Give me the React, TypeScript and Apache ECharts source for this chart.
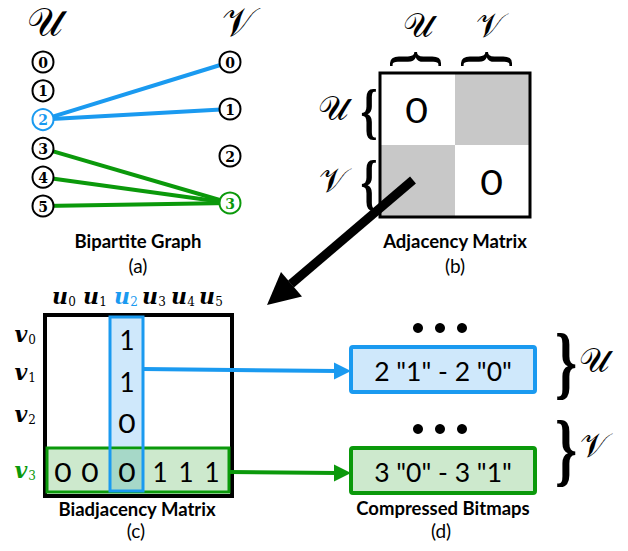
import React, { useEffect, useRef } from 'react';
import * as echarts from 'echarts';

// ---------- data ----------
const uNodes = ['0', '1', '2', '3', '4', '5'];
const vNodes = ['0', '1', '2', '3'];
const edges: [number, number][] = [[2, 0], [2, 1], [3, 3], [4, 3], [5, 3]];
const highlightU = 2;
const highlightV = 3;
const adjacencyCells = [['0', null], [null, '0']]; // null = shaded block
const biadjColumnValues = ['1', '1', '0']; // column u2, rows v0..v2
const biadjRowValues = ['0', '0', '0', '1', '1', '1']; // row v3, columns u0..u5
const colSubscripts = ['0', '1', '2', '3', '4', '5'];
const rowSubscripts = ['0', '1', '2', '3'];
const bitmapTexts = ['2 "1" - 2 "0"', '3 "0" - 3 "1"'];
const setLabels = ['𝒰', '𝒱'];
const panelTitles = ['Bipartite Graph', 'Adjacency Matrix', 'Biadjacency Matrix', 'Compressed Bitmaps'];
const panelTags = ['(a)', '(b)', '(c)', '(d)'];

// ---------- style ----------
const BLUE = '#1a9af0';
const LIGHT_BLUE = '#cfe8fb';
const GREEN = '#0b990b';
const LIGHT_GREEN = '#cde9cd';
const MIX = '#a6d8c8';
const GRAY = '#c8c8c8';
const SANS = 'Lato';
const SERIF = 'DejaVu Serif';
const BRACE = 'Liberation Serif';
const SCRIPT = 'DejaVu Serif';

export default function App() {
  const ref = useRef<HTMLDivElement>(null);
  useEffect(() => {
    document.body.style.margin = '0';
    const chart = echarts.init(ref.current!, null, { renderer: 'svg' });
    const els: any[] = [];
    const txt = (x: number, y: number, text: string, size: number, o: any = {}) => {
      els.push({
        type: 'text', x, y,
        rotation: o.rotation || 0, scaleX: o.sx || 1, scaleY: o.sy || 1,
        style: {
          text, fontSize: size, fontFamily: o.family || SANS,
          fontWeight: o.weight || 'normal', fontStyle: o.style || 'normal',
          fill: o.fill || '#000',
          align: o.align || 'center', verticalAlign: 'middle',
          textAlign: o.align || 'center', textVerticalAlign: 'middle',
        },
      });
    };
    const line = (x1: number, y1: number, x2: number, y2: number, stroke: string, w: number) =>
      els.push({ type: 'line', shape: { x1, y1, x2, y2 }, style: { stroke, lineWidth: w } });
    const rect = (x: number, y: number, w: number, h: number, style: any, r = 0) =>
      els.push({ type: 'rect', shape: { x, y, width: w, height: h, r }, style });
    const poly = (points: number[][], fill: string) =>
      els.push({ type: 'polygon', shape: { points }, style: { fill } });

    // ---------- (a) bipartite graph ----------
    const uX = 43, uTop = 62, uStep = 28.8;
    const vX = 230, vTop = 62, vStep = 47;
    const uY = (i: number) => uTop + i * uStep;
    const vY = (j: number) => vTop + j * vStep;
    txt(45, 22, setLabels[0], 40, { family: SCRIPT });
    txt(238, 22, setLabels[1], 40, { family: SCRIPT });
    edges.forEach(([u, v]) => {
      const c = u === highlightU ? BLUE : GREEN;
      line(uX, uY(u), vX, vY(v), c, 4);
    });
    uNodes.forEach((n, i) => {
      const c = i === highlightU ? BLUE : '#000';
      els.push({ type: 'circle', shape: { cx: uX, cy: uY(i), r: 10.5 }, style: { fill: '#fff', stroke: c, lineWidth: 2 } });
      txt(uX, uY(i) + 0.5, n, 14, { family: SERIF, weight: 'bold', fill: c });
    });
    vNodes.forEach((n, j) => {
      const c = j === highlightV ? GREEN : '#000';
      els.push({ type: 'circle', shape: { cx: vX, cy: vY(j), r: 10.5 }, style: { fill: '#fff', stroke: c, lineWidth: 2 } });
      txt(vX, vY(j) + 0.5, n, 14, { family: SERIF, weight: 'bold', fill: c });
    });
    txt(138, 241, panelTitles[0], 18.5, { weight: 'bold' });
    txt(138, 265, panelTags[0], 19);

    // ---------- (b) adjacency matrix ----------
    const ax = 380, ay = 73, aw = 150, ah = 144;
    rect(ax, ay, aw, ah, { fill: '#fff' });
    adjacencyCells.forEach((row, r) => row.forEach((cell, c) => {
      const cx = ax + c * aw / 2, cy = ay + r * ah / 2;
      if (cell === null) rect(cx, cy, aw / 2, ah / 2, { fill: GRAY });
      else txt(cx + aw / 4 - 1, cy + ah / 4 + 1, cell, 34, { sx: 1.15 });
    }));
    rect(ax, ay, aw, ah, { fill: 'none', stroke: '#000', lineWidth: 3 });
    // top braces
    txt(418, 25, setLabels[0], 34, { family: SCRIPT });
    txt(490, 25, setLabels[1], 34, { family: SCRIPT });
    txt(419, 59, '{', 62, { family: BRACE, weight: 'bold', rotation: -Math.PI / 2, sx: 0.7 });
    txt(490, 59, '{', 62, { family: BRACE, weight: 'bold', rotation: -Math.PI / 2, sx: 0.7 });
    // left braces
    txt(333, 108, setLabels[0], 34, { family: SCRIPT });
    txt(333, 180, setLabels[1], 34, { family: SCRIPT });
    txt(369, 111, '{', 62, { family: BRACE, weight: 'bold', sx: 0.7 });
    txt(369, 182, '{', 62, { family: BRACE, weight: 'bold', sx: 0.7 });
    txt(455, 241, panelTitles[1], 18.5, { weight: 'bold' });
    txt(455, 265, panelTags[1], 19);

    // big arrow (b) -> (c)
    line(413, 180, 291, 284, '#000', 9);
    poly([[267, 305], [302, 296.5], [281, 272]], '#000');

    // ---------- (c) biadjacency matrix ----------
    const bx = 45, by = 315, bw = 187, bh = 181;
    const cellX = [63, 90, 127, 160, 186, 212];
    const rowY = [340, 382, 423, 472];
    const colLabelX = [63, 94, 125, 153, 182, 210];
    const rowLabelY = [337, 375, 417, 473];
    const colRect = { x: 110, y: 317, w: 33, h: 174 };
    const rowRect = { x: 47, y: 448, w: 182, h: 44 };
    rect(bx, by, bw, bh, { fill: '#fff', stroke: '#000', lineWidth: 4 });
    rect(colRect.x, colRect.y, colRect.w, colRect.h, { fill: LIGHT_BLUE });
    rect(rowRect.x, rowRect.y, rowRect.w, rowRect.h, { fill: LIGHT_GREEN, stroke: GREEN, lineWidth: 3 });
    rect(colRect.x, rowRect.y + 1.5, colRect.w, rowRect.h - 3, { fill: MIX });
    rect(colRect.x, colRect.y, colRect.w, colRect.h, { fill: 'none', stroke: BLUE, lineWidth: 3 });
    biadjColumnValues.forEach((v, r) => txt(cellX[highlightU], rowY[r], v, 26, { sx: v === '0' ? 1.15 : 1 }));
    biadjRowValues.forEach((v, c) => txt(cellX[c], rowY[highlightV], v, 26, { sx: v === '0' ? 1.15 : 1 }));
    colSubscripts.forEach((s, i) => {
      const c = i === highlightU ? BLUE : '#000';
      txt(colLabelX[i] - 3, 296, 'u', 22, { family: SERIF, weight: 'bold', style: 'italic', fill: c });
      txt(colLabelX[i] + 9, 302, s, 12, { family: SERIF, fill: c });
    });
    rowSubscripts.forEach((s, i) => {
      const c = i === highlightV ? GREEN : '#000';
      txt(21, rowLabelY[i] - 3, 'v', 22, { family: SERIF, weight: 'bold', style: 'italic', fill: c });
      txt(32, rowLabelY[i] + 3, s, 12, { family: SERIF, fill: c });
    });
    txt(137, 509, panelTitles[2], 18.5, { weight: 'bold' });
    txt(136, 530, panelTags[2], 19);

    // connectors
    line(143, 369, 337, 371, BLUE, 4);
    poly([[351, 371], [334, 362.5], [334, 379.5]], BLUE);
    line(229, 472, 337, 473, GREEN, 4);
    poly([[351, 473], [334, 464.5], [334, 481.5]], GREEN);

    // ---------- (d) compressed bitmaps ----------
    const boxX = 351, boxW = 184, boxH = 45;
    const boxY = [347, 448];
    const boxStyles = [[LIGHT_BLUE, BLUE], [LIGHT_GREEN, GREEN]];
    bitmapTexts.forEach((t, k) => {
      const [f, s] = boxStyles[k];
      rect(boxX, boxY[k], boxW, boxH, { fill: f, stroke: s, lineWidth: 4 }, 2);
      txt(boxX + boxW / 2, boxY[k] + boxH / 2 + 1, t, 26.5);
      [418, 440, 462].forEach((dx) =>
        els.push({ type: 'circle', shape: { cx: dx, cy: boxY[k] - 19, r: 5 }, style: { fill: '#000' } }));
    });
    txt(566, 362, '}', 80, { family: BRACE, weight: 'bold', sx: 0.7 });
    txt(566, 449, '}', 80, { family: BRACE, weight: 'bold', sx: 0.7 });
    txt(594, 360, setLabels[0], 34, { family: SCRIPT });
    txt(594, 445, setLabels[1], 34, { family: SCRIPT });
    txt(443, 508, panelTitles[3], 18.5, { weight: 'bold' });
    txt(441, 530, panelTags[3], 19);

    chart.setOption({ animation: false, graphic: { elements: els } });
    return () => chart.dispose();
  }, []);
  return <div ref={ref} style={{ width: 628, height: 551 }} />;
}
